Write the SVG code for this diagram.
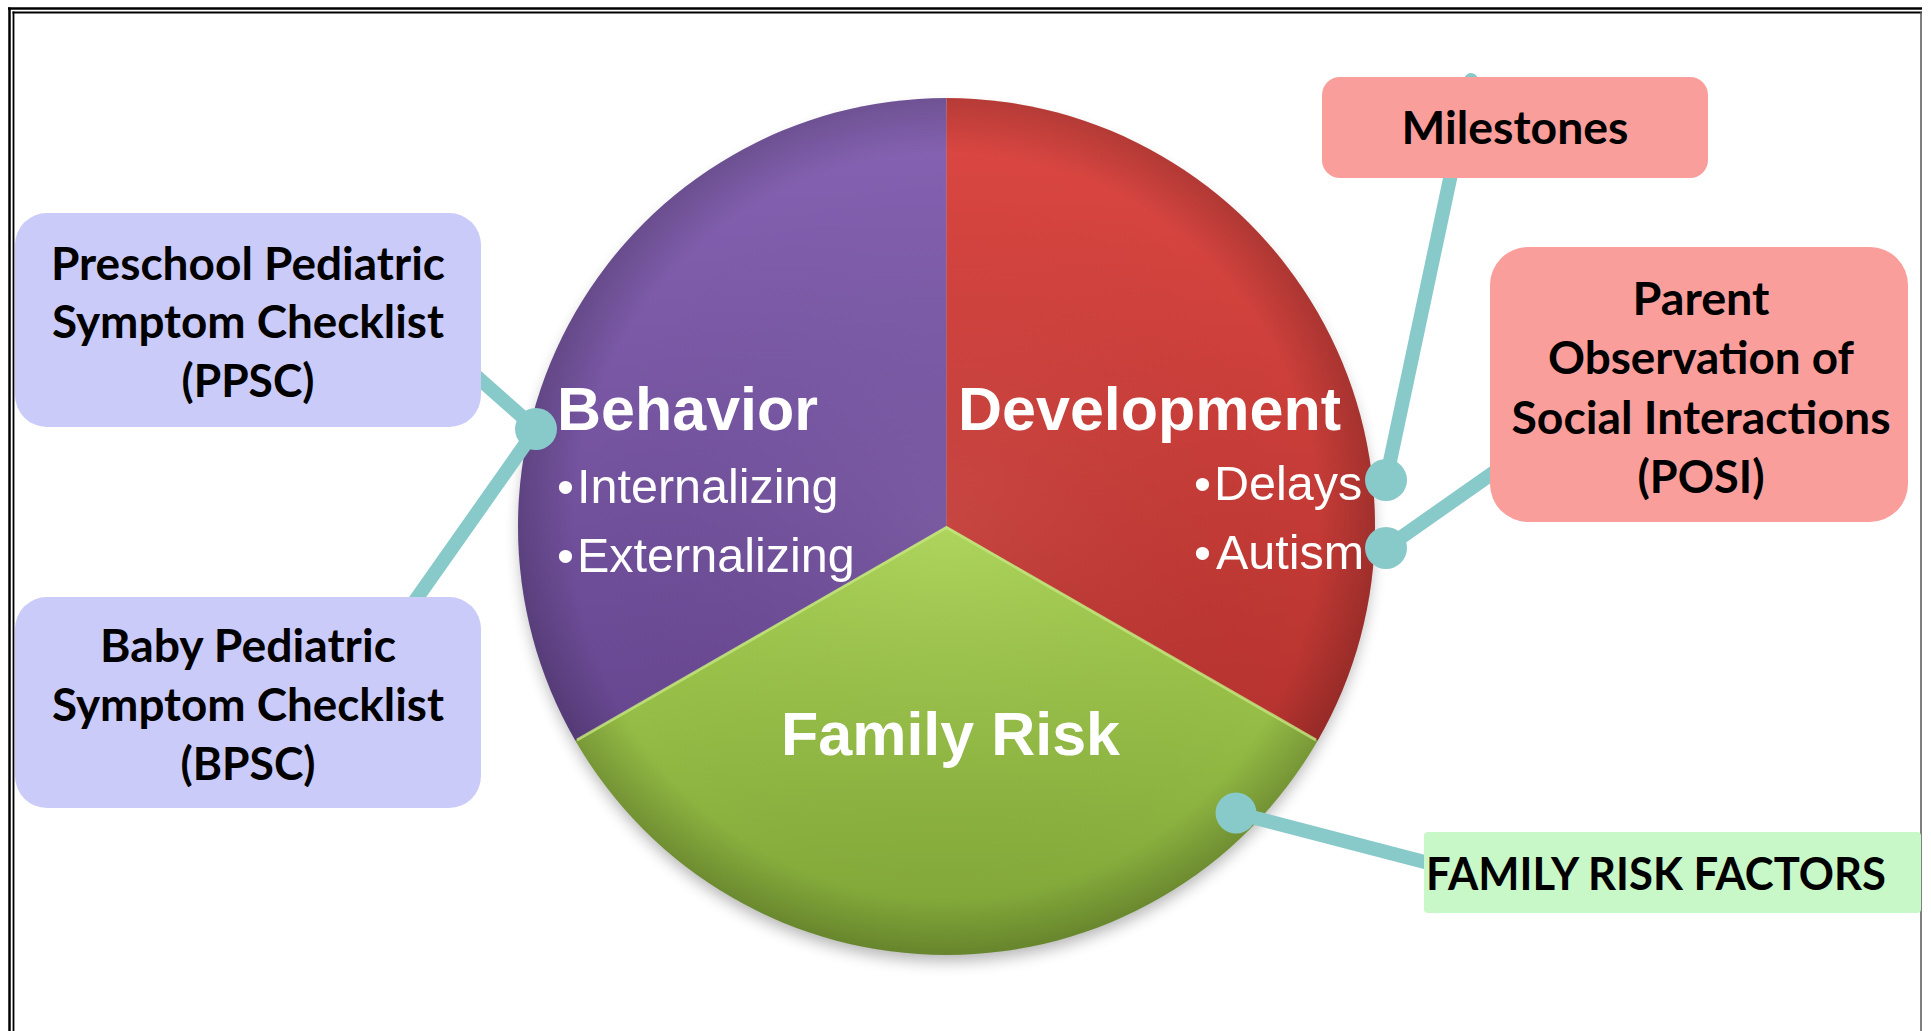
<svg xmlns="http://www.w3.org/2000/svg" width="1931" height="1031" viewBox="0 0 1931 1031">
<style>
.pieTitle{font-family:"Liberation Sans",Arial,sans-serif;font-weight:700;font-size:61px;fill:#ffffff}
.pieItem{font-family:"Liberation Sans",Arial,sans-serif;font-weight:400;font-size:48.5px;fill:#ffffff}
.box{font-family:"Lato","Liberation Sans",sans-serif;font-weight:700;font-size:45px;fill:#000000;text-anchor:middle}
.lav{fill:#CBCBF9}
.sal{fill:#FA9E9C}
.grn{fill:#C8F7C8}
.conn{stroke:#88C9CA;stroke-width:14;stroke-linecap:round;fill:none}
.dot{fill:#88C9CA}
</style>
<defs>
<linearGradient id="gPurple" gradientUnits="userSpaceOnUse" x1="0" y1="98" x2="0" y2="741">
<stop offset="0" stop-color="#8764B4"/><stop offset="1" stop-color="#66468F"/>
</linearGradient>
<linearGradient id="gRed" gradientUnits="userSpaceOnUse" x1="0" y1="98" x2="0" y2="741">
<stop offset="0" stop-color="#DD4843"/><stop offset="1" stop-color="#B6332F"/>
</linearGradient>
<linearGradient id="gGreen" gradientUnits="userSpaceOnUse" x1="0" y1="527" x2="0" y2="955">
<stop offset="0" stop-color="#A9D253"/><stop offset="1" stop-color="#7DA236"/>
</linearGradient>
<radialGradient id="gRim" gradientUnits="userSpaceOnUse" cx="946.5" cy="526.5" r="428.5">
<stop offset="0" stop-color="#ffffff" stop-opacity="0.06"/>
<stop offset="0.87" stop-color="#000000" stop-opacity="0"/>
<stop offset="1" stop-color="#000000" stop-opacity="0.18"/>
</radialGradient>
<filter id="fBlur" x="-20%" y="-20%" width="140%" height="140%">
<feGaussianBlur stdDeviation="8"/>
</filter>
</defs>
<rect x="0" y="0" width="1931" height="1031" fill="#ffffff"/>
<g id="frame" stroke="#000000" fill="none">
<line x1="8" y1="8.5" x2="1922" y2="8.5" stroke-width="2.5"/>
<line x1="12.5" y1="12.5" x2="1922" y2="12.5" stroke-width="1.8"/>
<line x1="9.5" y1="7.5" x2="9.5" y2="1031" stroke-width="2.5"/>
<line x1="13.5" y1="11.5" x2="13.5" y2="1031" stroke-width="1.8"/>
<line x1="1921" y1="12" x2="1921" y2="1031" stroke-width="1.5" stroke="#555555"/>
</g>
<g id="pie-shadow">
<circle cx="946.5" cy="535" r="426" fill="#000000" opacity="0.3" filter="url(#fBlur)"/>
</g>
<g id="node-behavior">
<path d="M946.5 526.5 L946.5 98 A428.5 428.5 0 0 0 575.41 740.75 Z" fill="url(#gPurple)"/>
<path d="M946.5 526.5 L946.5 98 A428.5 428.5 0 0 0 575.41 740.75 Z" fill="url(#gRim)"/>
<text class="pieTitle" x="557" y="430">Behavior</text>
<text class="pieItem" y="503"><tspan x="557">•</tspan><tspan x="577">Internalizing</tspan></text>
<text class="pieItem" y="572"><tspan x="557">•</tspan><tspan x="577">Externalizing</tspan></text>
</g>
<g id="node-development">
<path d="M946.5 526.5 L946.5 98 A428.5 428.5 0 0 1 1317.59 740.75 Z" fill="url(#gRed)"/>
<path d="M946.5 526.5 L946.5 98 A428.5 428.5 0 0 1 1317.59 740.75 Z" fill="url(#gRim)"/>
<text class="pieTitle" x="958" y="430">Development</text>
<text class="pieItem" y="500"><tspan x="1194">•</tspan><tspan x="1214">Delays</tspan></text>
<text class="pieItem" y="569"><tspan x="1194">•</tspan><tspan x="1216">Autism</tspan></text>
</g>
<g id="node-family-risk">
<path d="M946.5 526.5 L575.41 740.75 A428.5 428.5 0 0 0 1317.59 740.75 Z" fill="url(#gGreen)"/>
<path d="M946.5 526.5 L575.41 740.75 A428.5 428.5 0 0 0 1317.59 740.75 Z" fill="url(#gRim)"/>
<polyline points="577,740 946.5,527.5 1316,740" fill="none" stroke="#C4E67E" stroke-width="3" opacity="0.8"/>
<text class="pieTitle" x="781" y="755">Family Risk</text>
</g>
<g id="connectors">
<line class="conn" x1="458" y1="360" x2="536" y2="429"/>
<line class="conn" x1="536" y1="429" x2="405" y2="615"/>
<line class="conn" x1="1471" y1="80" x2="1386" y2="480"/>
<line class="conn" x1="1386" y1="548" x2="1500" y2="468"/>
<line class="conn" x1="1236" y1="813" x2="1440" y2="866"/>
<circle class="dot" cx="536" cy="429" r="21"/>
<circle class="dot" cx="1386" cy="480" r="21"/>
<circle class="dot" cx="1386" cy="548" r="21"/>
<circle class="dot" cx="1236" cy="813" r="20.5"/>
</g>
<g id="node-ppsc">
<rect class="lav" x="15" y="213" width="466" height="214" rx="32"/>
<text class="box" x="248" y="280" textLength="394" lengthAdjust="spacingAndGlyphs">Preschool Pediatric</text>
<text class="box" x="248" y="338" textLength="392" lengthAdjust="spacingAndGlyphs">Symptom Checklist</text>
<text class="box" x="248" y="397" textLength="133" lengthAdjust="spacingAndGlyphs">(PPSC)</text>
</g>
<g id="node-bpsc">
<rect class="lav" x="15" y="597" width="466" height="211" rx="32"/>
<text class="box" x="248" y="662" textLength="296" lengthAdjust="spacingAndGlyphs">Baby Pediatric</text>
<text class="box" x="248" y="721" textLength="392" lengthAdjust="spacingAndGlyphs">Symptom Checklist</text>
<text class="box" x="248" y="780" textLength="135" lengthAdjust="spacingAndGlyphs">(BPSC)</text>
</g>
<g id="node-milestones">
<rect class="sal" x="1322" y="77" width="386" height="101" rx="18"/>
<text class="box" x="1515" y="144" textLength="227" lengthAdjust="spacingAndGlyphs">Milestones</text>
</g>
<g id="node-posi">
<rect class="sal" x="1490" y="247" width="418" height="275" rx="38"/>
<text class="box" x="1701" y="315" textLength="137" lengthAdjust="spacingAndGlyphs">Parent</text>
<text class="box" x="1701" y="374" textLength="306" lengthAdjust="spacingAndGlyphs">Observation of</text>
<text class="box" x="1701" y="434" textLength="379" lengthAdjust="spacingAndGlyphs">Social Interactions</text>
<text class="box" x="1701" y="493" textLength="127" lengthAdjust="spacingAndGlyphs">(POSI)</text>
</g>
<g id="node-family-factors">
<rect class="grn" x="1424" y="832" width="497" height="81" rx="4"/>
<text class="box" x="1656" y="890" textLength="460" lengthAdjust="spacingAndGlyphs">FAMILY RISK FACTORS</text>
</g>
</svg>
